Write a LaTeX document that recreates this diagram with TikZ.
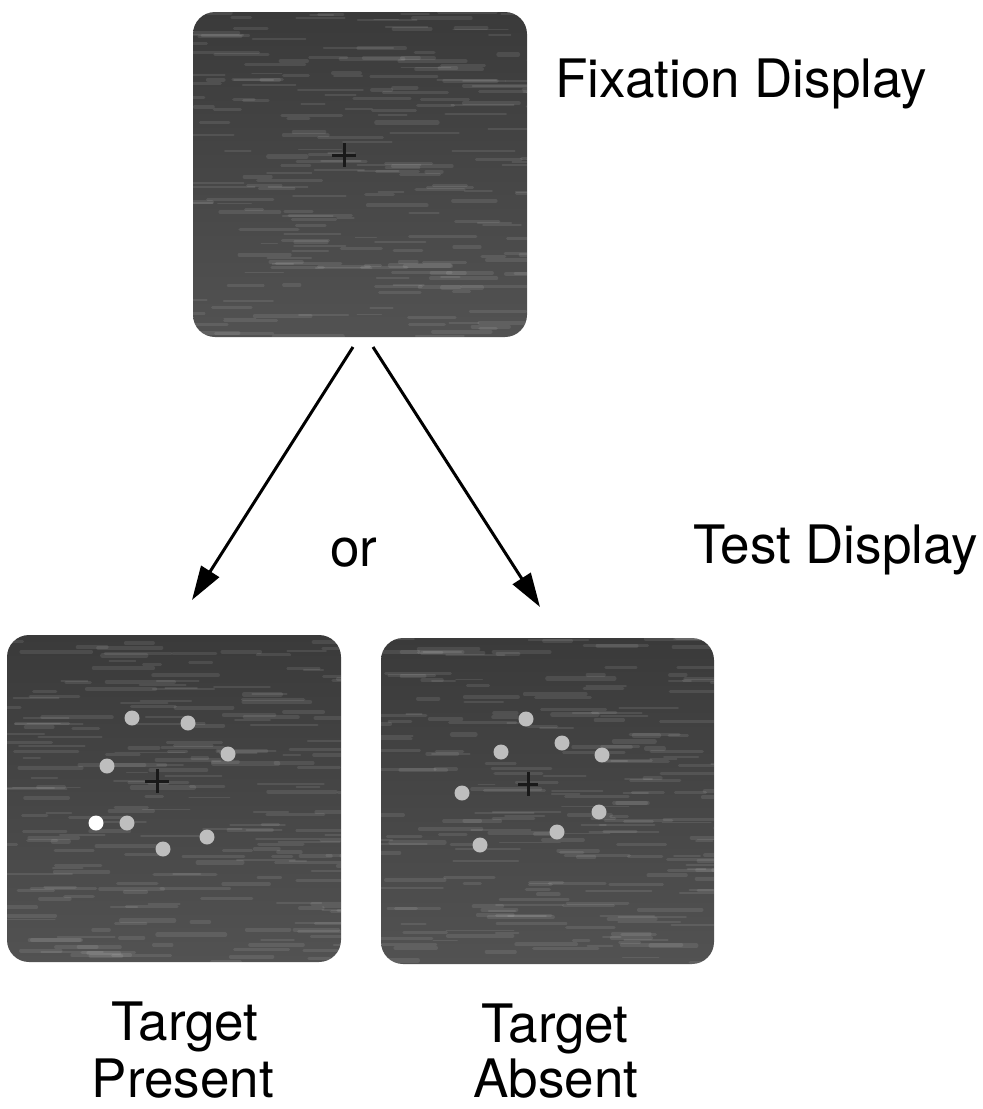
\documentclass[tikz,border=0pt]{standalone}
\usepackage{fontspec}
\setmainfont{TeX Gyre Heros}
\usetikzlibrary{arrows.meta}
\definecolor{dispdark}{RGB}{58,58,58}
\definecolor{displight}{RGB}{82,82,82}
\definecolor{dotgray}{RGB}{190,190,190}
\newcommand{\dispgrain}[1]{%
  \begin{scope}
    \clip[rounded corners=22pt] (#1.north west) rectangle (#1.south east);
    \foreach \i in {1,...,230}{%
      \pgfmathsetmacro{\gx}{rnd*360-20}%
      \pgfmathsetmacro{\gy}{rnd*330}%
      \pgfmathsetmacro{\gl}{15+55*rnd}%
      \pgfmathsetmacro{\gw}{1.5+3*rnd}%
      \draw[line width=\gw pt, white, opacity=0.09, line cap=round] (#1.north west) ++(\gx,\gy) -- ++(\gl,0);
    }
  \end{scope}}
\begin{document}
\begin{tikzpicture}[x=1pt,y=-1pt,
  display/.style={rectangle, draw=none, rounded corners=22pt, top color=dispdark, bottom color=displight, inner sep=0pt},
  lab/.style={font=\fontsize{53}{58}\selectfont, inner sep=0pt},
  stim/.style={circle, fill=dotgray, minimum size=15pt, inner sep=0pt},
  targ/.style={circle, fill=white, minimum size=15pt, inner sep=0pt},
  fixcross/.style={line width=3pt, draw=black!90},
  arr/.style={line width=3pt, -{Triangle[length=34pt,width=21pt]}}]
\useasboundingbox (0,0) rectangle (983,1109);
\pgfmathsetseed{11}

% displays
\node[display, minimum width=334pt, minimum height=325pt] (fix) at (360,174.5) {};
\node[display, minimum width=334pt, minimum height=327pt] (tp) at (174,798.5) {};
\node[display, minimum width=333pt, minimum height=326pt] (ta) at (547.5,801) {};
\dispgrain{fix}
\dispgrain{tp}
\dispgrain{ta}

% fixation crosses
\coordinate (cfix) at (344,155);
\coordinate (ctp) at (157,781);
\coordinate (cta) at (528,784);
\draw[fixcross] (cfix) ++(-12,0) -- ++(24,0) (cfix) ++(0,-12) -- ++(0,24);
\draw[fixcross] (ctp) ++(-12,0) -- ++(24,0) (ctp) ++(0,-12) -- ++(0,24);
\draw[fixcross] (cta) ++(-10,0) -- ++(20,0) (cta) ++(0,-12) -- ++(0,24);

% target present dots
\node[stim] (p1) at (132,718) {};
\node[stim] (p2) at (188,723) {};
\node[stim] (p3) at (228,754) {};
\node[stim] (p4) at (107,766) {};
\node[targ] (p5) at (96,823) {};
\node[stim] (p6) at (127,823) {};
\node[stim] (p7) at (207,837) {};
\node[stim] (p8) at (163,849) {};

% target absent dots
\node[stim] (a1) at (526,719) {};
\node[stim] (a2) at (562,743) {};
\node[stim] (a3) at (501,752) {};
\node[stim] (a4) at (602,755) {};
\node[stim] (a5) at (462,793) {};
\node[stim] (a6) at (599,812) {};
\node[stim] (a7) at (557,832) {};
\node[stim] (a8) at (480,845) {};

% arrows
\coordinate (s1) at (353,347);
\coordinate (e1) at (192,600);
\coordinate (s2) at (373,347);
\coordinate (e2) at (540,607);
\draw[arr] (s1) -- (e1);
\draw[arr] (s2) -- (e2);

% labels
\node[lab, anchor=base west] (lfix) at (555,97) {Fixation Display};
\node[lab, anchor=base west] (ltest) at (693,563) {Test Display};
\node[lab, anchor=base west] (lor) at (330,566) {or};
\node[lab, anchor=base] (ltp1) at (185,1040) {Target};
\node[lab, anchor=base] (ltp2) at (183,1097) {Present};
\node[lab, anchor=base] (lta1) at (555,1042) {Target};
\node[lab, anchor=base] (lta2) at (556,1097) {Absent};
\end{tikzpicture}
\end{document}
